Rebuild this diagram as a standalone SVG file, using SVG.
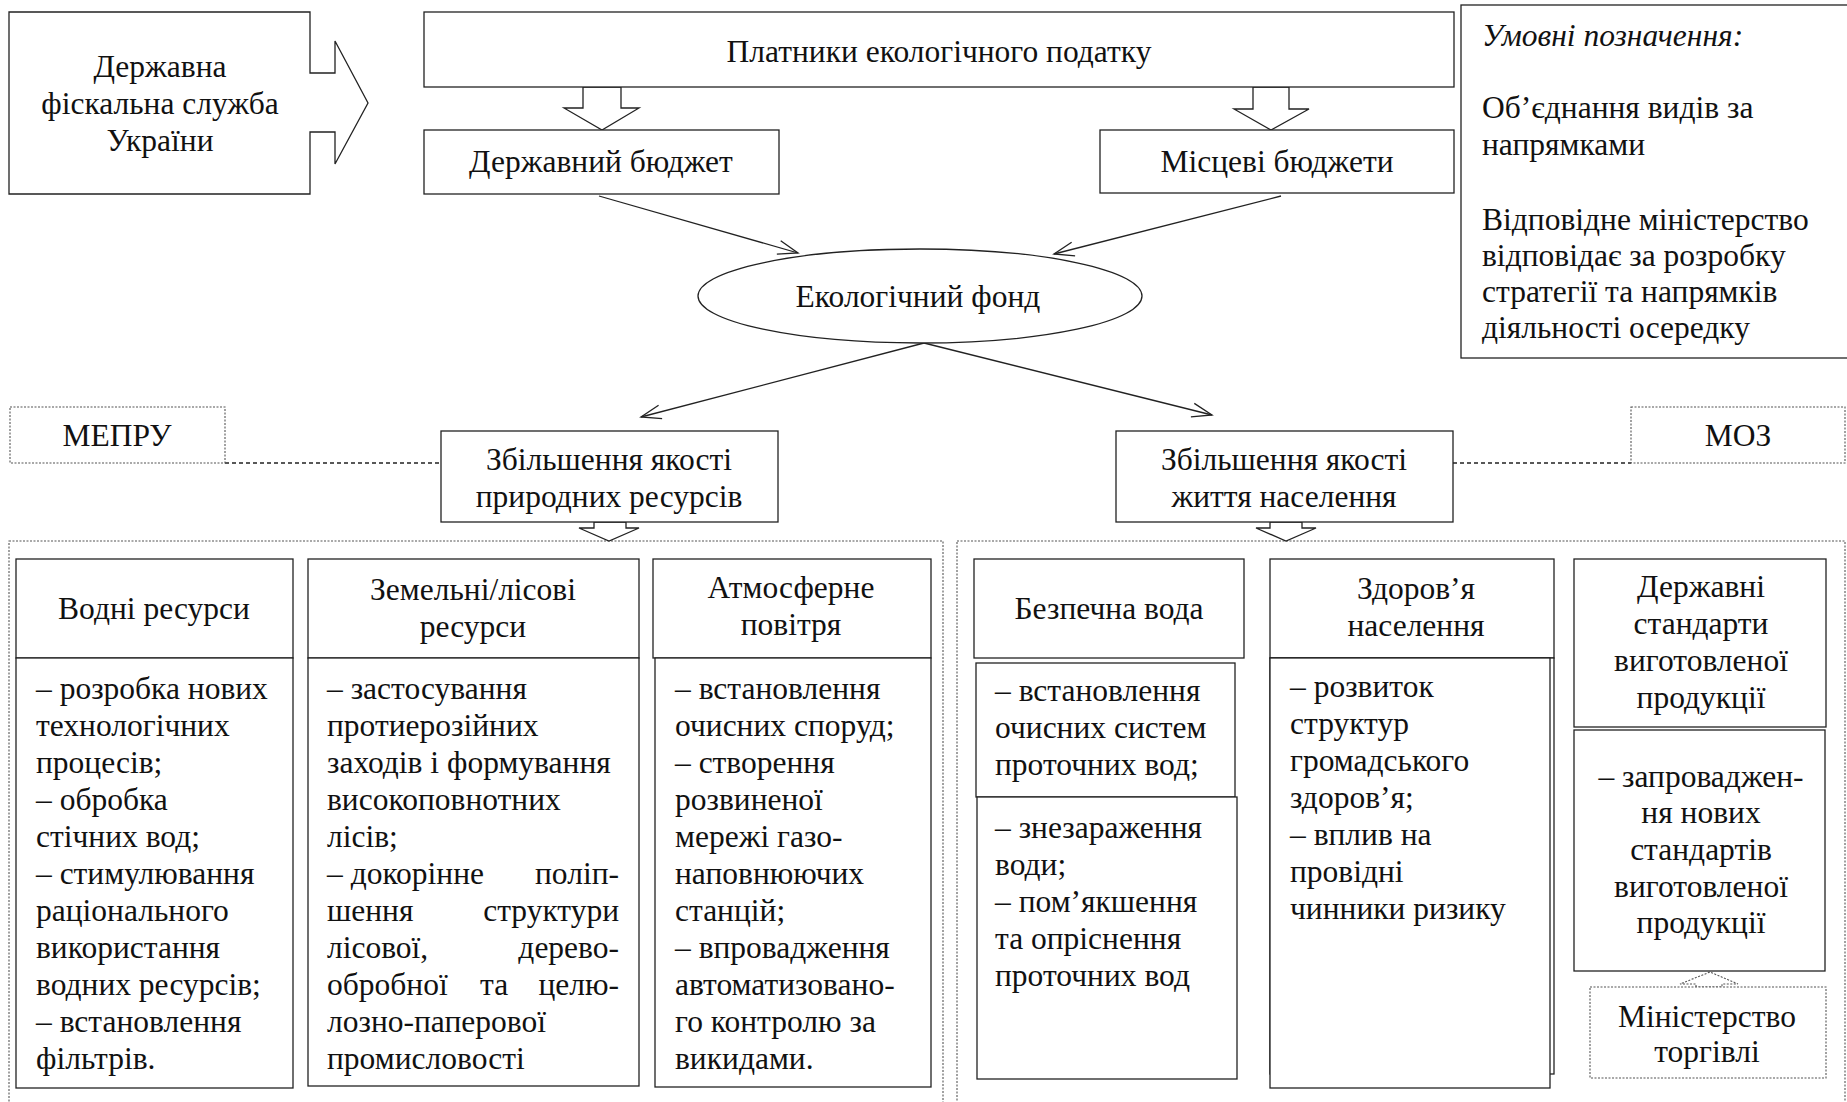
<svg xmlns="http://www.w3.org/2000/svg" width="1847" height="1102" viewBox="0 0 1847 1102">
<defs>
<style>
text{font-family:"Liberation Serif","Times New Roman",serif;font-size:31.5px;fill:#111}
.c{text-anchor:middle}
.e{text-anchor:end}
.box{fill:#fff;stroke:#222;stroke-width:1.3}
.dot{fill:#fff;stroke:#555;stroke-width:1.1;stroke-dasharray:2 1.5}
.dash{fill:none;stroke:#222;stroke-width:1.3;stroke-dasharray:4 3}
.ln{fill:none;stroke:#222;stroke-width:1.3}
.blk{fill:#fff;stroke:#222;stroke-width:1.3;stroke-linejoin:miter}
</style>
<marker id="ah" viewBox="-22 -10 24 20" markerWidth="24" markerHeight="20" refX="0" refY="0" orient="auto" markerUnits="userSpaceOnUse">
<path d="M-20,-7 L0,0 L-20,7" fill="none" stroke="#222" stroke-width="1.3"/>
</marker>
</defs>
<rect width="1847" height="1102" fill="#fff"/>

<g id="containers">
<rect class="dot" x="9" y="541" width="934" height="580" fill="none"/>
<rect class="dot" x="957" y="541" width="888" height="580" fill="none"/>
</g>

<g id="connectors">
<line class="ln" x1="599" y1="196" x2="798" y2="253" marker-end="url(#ah)"/>
<line class="ln" x1="1281" y1="196" x2="1054" y2="254" marker-end="url(#ah)"/>
<line class="ln" x1="924" y1="343" x2="641" y2="417" marker-end="url(#ah)"/>
<line class="ln" x1="924" y1="343" x2="1212" y2="415" marker-end="url(#ah)"/>
<line class="dash" x1="225" y1="463" x2="441" y2="463"/>
<line class="dash" x1="1453" y1="463" x2="1631" y2="463"/>
<polygon class="blk" points="583,87 583,108 564,108 602,130 639,108 621,108 621,87"/>
<polygon class="blk" points="1253,87 1253,109 1234,109 1271,130 1309,109 1289,109 1289,87"/>
<polygon class="blk" points="594,522 594,528 579,528 609,541 639,528 626,528 626,522"/>
<polygon class="blk" points="1270,522 1270,528 1256,528 1286,541 1316,528 1302,528 1302,522"/>
<polygon class="dot" points="1696,987 1696,984 1680,984 1710,972 1738,984 1722,984 1722,987"/>
</g>

<g id="dfs">
<path class="box" d="M9,12 H310 V73 H335 V41 L368,103 L335,164 V132 H310 V194 H9 Z"/>
<text class="c" x="160" y="77">Державна</text>
<text class="c" x="160" y="114">фіскальна служба</text>
<text class="c" x="160" y="151">України</text>
</g>

<g id="payers">
<rect class="box" x="424" y="12" width="1030" height="75"/>
<text class="c" x="939" y="62">Платники екологічного податку</text>
</g>

<g id="state-budget">
<rect class="box" x="424" y="130" width="355" height="64"/>
<text class="c" x="601" y="172">Державний бюджет</text>
</g>

<g id="local-budgets">
<rect class="box" x="1100" y="130" width="354" height="63"/>
<text class="c" x="1277" y="172">Місцеві бюджети</text>
</g>

<g id="legend">
<rect class="box" x="1461" y="5" width="390" height="353"/>
<text x="1482" y="46" font-style="italic">Умовні позначення:</text>
<text x="1482" y="118">Об’єднання видів за</text>
<text x="1482" y="155">напрямками</text>
<text x="1482" y="230">Відповідне міністерство</text>
<text x="1482" y="266">відповідає за розробку</text>
<text x="1482" y="302">стратегії та напрямків</text>
<text x="1482" y="338">діяльності осередку</text>
</g>

<g id="eco-fund">
<ellipse class="box" cx="920" cy="296" rx="222" ry="47"/>
<text class="c" x="918" y="307">Екологічний фонд</text>
</g>

<g id="mepru">
<rect class="dot" x="10" y="407" width="215" height="56"/>
<text class="c" x="117" y="446">МЕПРУ</text>
</g>

<g id="moz">
<rect class="dot" x="1631" y="407" width="214" height="56"/>
<text class="c" x="1738" y="446">МОЗ</text>
</g>

<g id="natural-resources">
<rect class="box" x="441" y="431" width="337" height="91"/>
<text class="c" x="609" y="470">Збільшення якості</text>
<text class="c" x="609" y="507">природних ресурсів</text>
</g>

<g id="life-quality">
<rect class="box" x="1116" y="431" width="337" height="91"/>
<text class="c" x="1284" y="470">Збільшення якості</text>
<text class="c" x="1284" y="507">життя населення</text>
</g>

<g id="water">
<rect class="box" x="16" y="559" width="277" height="99"/>
<text class="c" x="154" y="619">Водні ресурси</text>
<rect class="box" x="16" y="658" width="277" height="430"/>
<text x="36" y="699">– розробка нових</text>
<text x="36" y="736">технологічних</text>
<text x="36" y="773">процесів;</text>
<text x="36" y="810">– обробка</text>
<text x="36" y="847">стічних вод;</text>
<text x="36" y="884">– стимулювання</text>
<text x="36" y="921">раціонального</text>
<text x="36" y="958">використання</text>
<text x="36" y="995">водних ресурсів;</text>
<text x="36" y="1032">– встановлення</text>
<text x="36" y="1069">фільтрів.</text>
</g>

<g id="land-forest">
<rect class="box" x="308" y="559" width="331" height="99"/>
<text class="c" x="473" y="600">Земельні/лісові</text>
<text class="c" x="473" y="637">ресурси</text>
<rect class="box" x="308" y="658" width="331" height="428"/>
<text x="327" y="699">– застосування</text>
<text x="327" y="736">протиерозійних</text>
<text x="327" y="773">заходів і формування</text>
<text x="327" y="810">високоповнотних</text>
<text x="327" y="847">лісів;</text>
<text x="327" y="884">– докорінне</text><text class="e" x="619" y="884">поліп-</text>
<text x="327" y="921">шення</text><text class="e" x="619" y="921">структури</text>
<text x="327" y="958">лісової,</text><text class="e" x="619" y="958">дерево-</text>
<text x="327" y="995">обробної</text><text x="480" y="995">та</text><text class="e" x="619" y="995">целю-</text>
<text x="327" y="1032">лозно-паперової</text>
<text x="327" y="1069">промисловості</text>
</g>

<g id="air">
<rect class="box" x="653" y="559" width="278" height="99"/>
<text class="c" x="791" y="598">Атмосферне</text>
<text class="c" x="791" y="635">повітря</text>
<rect class="box" x="655" y="658" width="276" height="429"/>
<text x="675" y="699">– встановлення</text>
<text x="675" y="736">очисних споруд;</text>
<text x="675" y="773">– створення</text>
<text x="675" y="810">розвиненої</text>
<text x="675" y="847">мережі газо-</text>
<text x="675" y="884">наповнюючих</text>
<text x="675" y="921">станцій;</text>
<text x="675" y="958">– впровадження</text>
<text x="675" y="995">автоматизовано-</text>
<text x="675" y="1032">го контролю за</text>
<text x="675" y="1069">викидами.</text>
</g>

<g id="safe-water">
<rect class="box" x="974" y="559" width="270" height="99"/>
<text class="c" x="1109" y="619">Безпечна вода</text>
<rect class="box" x="976" y="663" width="259" height="134"/>
<text x="995" y="701">– встановлення</text>
<text x="995" y="738">очисних систем</text>
<text x="995" y="775">проточних вод;</text>
<rect class="box" x="977" y="797" width="260" height="282"/>
<text x="995" y="838">– знезараження</text>
<text x="995" y="875">води;</text>
<text x="995" y="912">– пом’якшення</text>
<text x="995" y="949">та опріснення</text>
<text x="995" y="986">проточних вод</text>
</g>

<g id="health">
<rect class="box" x="1270" y="559" width="284" height="99"/>
<text class="c" x="1416" y="599">Здоров’я</text>
<text class="c" x="1416" y="636">населення</text>
<rect class="box" x="1270" y="658" width="284" height="416"/>
<rect class="box" x="1270" y="658" width="280" height="430"/>
<text x="1290" y="697">– розвиток</text>
<text x="1290" y="734">структур</text>
<text x="1290" y="771">громадського</text>
<text x="1290" y="808">здоров’я;</text>
<text x="1290" y="845">– вплив на</text>
<text x="1290" y="882">провідні</text>
<text x="1290" y="919">чинники ризику</text>
</g>

<g id="standards">
<rect class="box" x="1574" y="559" width="252" height="168"/>
<text class="c" x="1701" y="597">Державні</text>
<text class="c" x="1701" y="634">стандарти</text>
<text class="c" x="1701" y="671">виготовленої</text>
<text class="c" x="1701" y="708">продукції</text>
<rect class="box" x="1574" y="730" width="251" height="241"/>
<text class="c" x="1701" y="787">– запроваджен-</text>
<text class="c" x="1701" y="823">ня нових</text>
<text class="c" x="1701" y="860">стандартів</text>
<text class="c" x="1701" y="897">виготовленої</text>
<text class="c" x="1701" y="933">продукції</text>
</g>

<g id="trade-ministry">
<rect class="dot" x="1590" y="987" width="236" height="91"/>
<text class="c" x="1707" y="1027">Міністерство</text>
<text class="c" x="1707" y="1062">торгівлі</text>
</g>
</svg>
